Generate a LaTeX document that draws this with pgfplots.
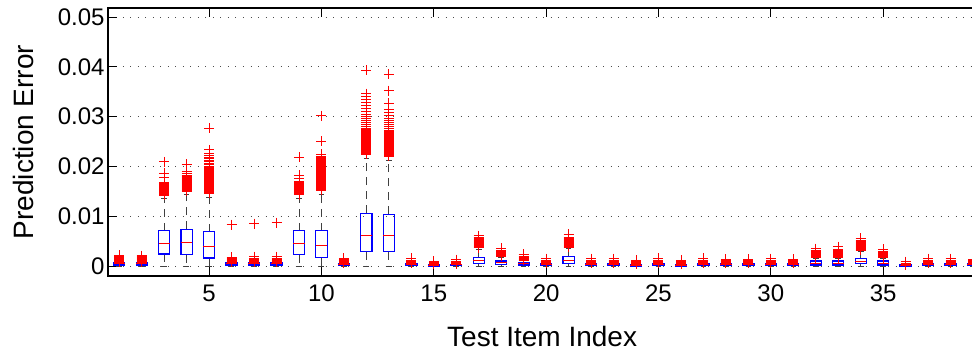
\documentclass[border=0pt]{standalone}
\usepackage{pgfplots}
\usepgfplotslibrary{statistics}
\pgfplotsset{compat=1.18}
\usepackage{fontspec}
\setmainfont{Liberation Sans}

\pgfplotsset{
  mybox/.style={
    draw=blue,
    boxplot/draw direction=y,
    boxplot/box extend=0.5,
    boxplot/whisker extend=0.25,
    boxplot/every box/.style={draw=blue, line width=1.1pt, solid},
    boxplot/every median/.style={draw=red, line width=1pt, solid},
    boxplot/every whisker/.style={draw=black!75, line width=0.9pt, dash pattern=on 8pt off 6pt},
  },
  myout/.style={
    only marks, draw=red,
    mark=+, mark size=5pt,
    mark options={draw=red, solid, line width=0.9pt},
  },
}
% values in units of 0.001 (prediction error x 1000)
% #1 pos, #2 median, #3 q1, #4 q3, #5 lower whisker, #6 upper whisker, #7 outliers
\newcommand\bx[7]{%
  \addplot[mybox, boxplot prepared={draw position=#1, median=#2, lower quartile=#3, upper quartile=#4, lower whisker=#5, upper whisker=#6}] coordinates {};
  \addplot[myout] table[row sep=\\, x expr=#1, y index=0] {y\\ #7};}

\begin{document}
\begin{tikzpicture}
\begin{axis}[
  scale only axis,
  width=876.3pt, height=268pt,
  xmin=0.5, xmax=39.5,
  ymin=-2.01, ymax=51.8,
  xtick={5,10,15,20,25,30,35},
  xticklabels={5,10,15,20,25,30,35},
  ytick={0,10,20,30,40,50},
  yticklabels={0,0.01,0.02,0.03,0.04,0.05},
  tick align=inside,
  tick pos=both,
  major tick length=9pt,
  tick style={draw=black, line width=0.8pt},
  ymajorgrids,
  grid style={draw=black!70, dash pattern=on 1pt off 6.5pt, line width=0.7pt},
  axis line style={draw=black, line width=1.1pt},
  ticklabel style={font=\fontsize{24}{28}\selectfont},
  xticklabel style={yshift=-5pt},
  xlabel={Test Item Index},
  ylabel={Prediction Error},
  every axis x label/.style={at={([yshift=-47pt,xshift=-4pt]axis description cs:0.5,0)}, anchor=north, font=\fontsize{28}{32}\selectfont},
  every axis y label/.style={at={([xshift=-85pt]axis description cs:0,0.5)}, rotate=90, anchor=center, font=\fontsize{28}{32}\selectfont},
]
\bx{1}{0.4}{0.2}{0.6}{0}{0.7}{0.8\\1.0\\1.2\\1.3\\1.5\\1.7\\1.9\\2.2\\}
\bx{2}{0.4}{0.2}{0.6}{0}{0.7}{0.8\\1.0\\1.1\\1.3\\1.5\\1.7\\1.9\\2.1\\}
\bx{3}{4.6}{2.4}{7.1}{0}{13.5}{14.2\\14.4\\14.6\\14.8\\15.0\\15.2\\15.4\\15.6\\15.8\\16.0\\16.2\\16.4\\16.6\\16.8\\17.8\\18.6\\20.9\\}
\bx{4}{4.7}{2.3}{7.4}{0}{14.3}{15.0\\15.2\\15.4\\15.6\\15.8\\16.0\\16.2\\16.4\\16.6\\16.8\\17.0\\17.2\\17.4\\17.6\\17.8\\18.0\\18.2\\18.5\\19.0\\20.4\\}
\bx{5}{3.9}{1.6}{6.9}{0}{13.8}{14.6\\14.8\\15.0\\15.2\\15.4\\15.6\\15.8\\16.0\\16.2\\16.4\\16.6\\16.8\\17.0\\17.2\\17.4\\17.6\\17.8\\18.0\\18.2\\18.4\\18.6\\18.8\\19.0\\19.2\\19.4\\19.6\\19.8\\20.0\\20.3\\20.6\\20.9\\21.2\\21.5\\21.8\\22.1\\22.5\\23.3\\27.7\\}
\bx{6}{0.4}{0.2}{0.6}{0}{0.7}{0.8\\1.0\\1.2\\1.4\\1.6\\1.8\\8.3\\}
\bx{7}{0.4}{0.2}{0.6}{0}{0.7}{0.8\\1.0\\1.2\\1.4\\1.6\\1.9\\8.5\\}
\bx{8}{0.4}{0.2}{0.6}{0}{0.7}{0.8\\1.0\\1.2\\1.4\\1.6\\1.9\\8.7\\}
\bx{9}{4.6}{2.3}{7.1}{0}{13.5}{14.3\\14.5\\14.7\\14.9\\15.1\\15.3\\15.5\\15.7\\15.9\\16.1\\16.3\\16.5\\16.7\\16.9\\17.6\\18.2\\21.8\\}
\bx{10}{4.1}{1.7}{7.1}{0}{14.4}{15.2\\15.4\\15.6\\15.8\\16.0\\16.2\\16.4\\16.6\\16.8\\17.0\\17.2\\17.4\\17.6\\17.8\\18.0\\18.2\\18.4\\18.6\\18.8\\19.0\\19.2\\19.4\\19.6\\19.8\\20.0\\20.2\\20.4\\20.6\\20.8\\21.0\\21.2\\21.4\\21.6\\21.8\\22.0\\22.4\\25.0\\30.2\\}
\bx{11}{0.3}{0.1}{0.5}{0}{0.6}{0.6\\0.8\\1.0\\1.2\\1.4\\1.6\\}
\bx{12}{6.1}{2.9}{10.6}{0}{21.5}{22.4\\22.6\\22.8\\23.0\\23.2\\23.4\\23.6\\23.8\\24.0\\24.2\\24.4\\24.6\\24.8\\25.0\\25.2\\25.4\\25.6\\25.8\\26.0\\26.2\\26.4\\26.6\\26.8\\27.0\\27.2\\27.4\\27.6\\28.0\\28.4\\28.8\\29.2\\29.6\\30.0\\30.5\\31.0\\31.6\\32.2\\32.8\\33.4\\34.0\\34.6\\39.3\\}
\bx{13}{6.1}{2.9}{10.4}{0}{21.2}{22.0\\22.2\\22.4\\22.6\\22.8\\23.0\\23.2\\23.4\\23.6\\23.8\\24.0\\24.2\\24.4\\24.6\\24.8\\25.0\\25.2\\25.4\\25.6\\25.8\\26.0\\26.2\\26.4\\26.6\\26.8\\27.0\\27.2\\27.6\\28.0\\28.4\\28.8\\29.2\\29.7\\30.2\\30.8\\31.5\\32.7\\35.2\\38.5\\}
\bx{14}{0.3}{0.1}{0.5}{0}{0.6}{0.6\\0.8\\1.0\\1.2\\1.6\\}
\bx{15}{0.1}{0}{0.2}{0}{0.3}{0.3\\0.5\\0.7\\1.0\\}
\bx{16}{0.2}{0.1}{0.3}{0}{0.4}{0.4\\0.6\\0.8\\1.0\\1.3\\}
\bx{17}{1.1}{0.5}{1.7}{0}{3.4}{3.7\\3.9\\4.1\\4.3\\4.5\\4.7\\4.9\\5.1\\5.3\\5.5\\5.7\\6.1\\}
\bx{18}{0.7}{0.3}{1.0}{0}{1.8}{2.0\\2.2\\2.4\\2.6\\2.8\\3.0\\3.2\\3.6\\}
\bx{19}{0.4}{0.2}{0.7}{0}{1.1}{1.2\\1.4\\1.6\\1.8\\2.0\\2.4\\}
\bx{20}{0.2}{0.1}{0.4}{0}{0.5}{0.5\\0.7\\0.9\\1.1\\1.5\\}
\bx{21}{1.1}{0.5}{1.9}{0}{3.6}{3.8\\4.0\\4.2\\4.4\\4.6\\4.8\\5.0\\5.2\\5.4\\5.6\\5.8\\6.4\\}
\bx{22}{0.2}{0.1}{0.4}{0}{0.5}{0.6\\0.8\\1.0\\1.2\\1.5\\}
\bx{23}{0.2}{0.1}{0.4}{0}{0.5}{0.6\\0.8\\1.0\\1.2\\1.5\\}
\bx{24}{0.1}{0}{0.3}{0}{0.3}{0.3\\0.5\\0.7\\0.9\\1.2\\}
\bx{25}{0.2}{0.1}{0.4}{0}{0.5}{0.6\\0.8\\1.0\\1.2\\1.6\\}
\bx{26}{0.1}{0}{0.3}{0}{0.3}{0.3\\0.5\\0.7\\0.9\\1.2\\}
\bx{27}{0.2}{0.1}{0.4}{0}{0.5}{0.6\\0.8\\1.0\\1.2\\1.6\\}
\bx{28}{0.2}{0.1}{0.4}{0}{0.5}{0.5\\0.7\\0.9\\1.1\\1.4\\}
\bx{29}{0.2}{0.1}{0.4}{0}{0.5}{0.5\\0.7\\0.9\\1.1\\1.4\\}
\bx{30}{0.2}{0.1}{0.4}{0}{0.5}{0.5\\0.7\\0.9\\1.1\\1.5\\}
\bx{31}{0.2}{0.1}{0.4}{0}{0.5}{0.5\\0.7\\0.9\\1.1\\1.4\\}
\bx{32}{0.5}{0.2}{1.0}{0}{1.5}{1.7\\1.9\\2.1\\2.3\\2.5\\2.7\\2.9\\3.1\\3.5\\}
\bx{33}{0.5}{0.2}{1.0}{0}{1.5}{1.7\\1.9\\2.1\\2.3\\2.5\\2.7\\2.9\\3.1\\3.3\\3.9\\}
\bx{34}{1.0}{0.5}{1.5}{0}{3.0}{3.2\\3.4\\3.6\\3.8\\4.0\\4.2\\4.4\\4.6\\4.8\\5.0\\5.2\\5.6\\}
\bx{35}{0.5}{0.2}{1.0}{0}{1.5}{1.7\\1.9\\2.1\\2.3\\2.5\\2.7\\2.9\\3.4\\}
\bx{36}{0.1}{0}{0.2}{0}{0.2}{0.2\\0.4\\0.6\\0.9\\}
\bx{37}{0.2}{0.1}{0.4}{0}{0.5}{0.5\\0.7\\0.9\\1.1\\1.5\\}
\bx{38}{0.2}{0.1}{0.4}{0}{0.5}{0.5\\0.7\\0.9\\1.1\\1.5\\}
\bx{39}{0.2}{0.1}{0.4}{0}{0.5}{0.5\\0.7\\0.9\\1.1\\1.4\\}
\end{axis}
\pgfresetboundingbox
\useasboundingbox (-108pt,-82pt) rectangle (864pt,276pt);
\end{tikzpicture}
\end{document}
